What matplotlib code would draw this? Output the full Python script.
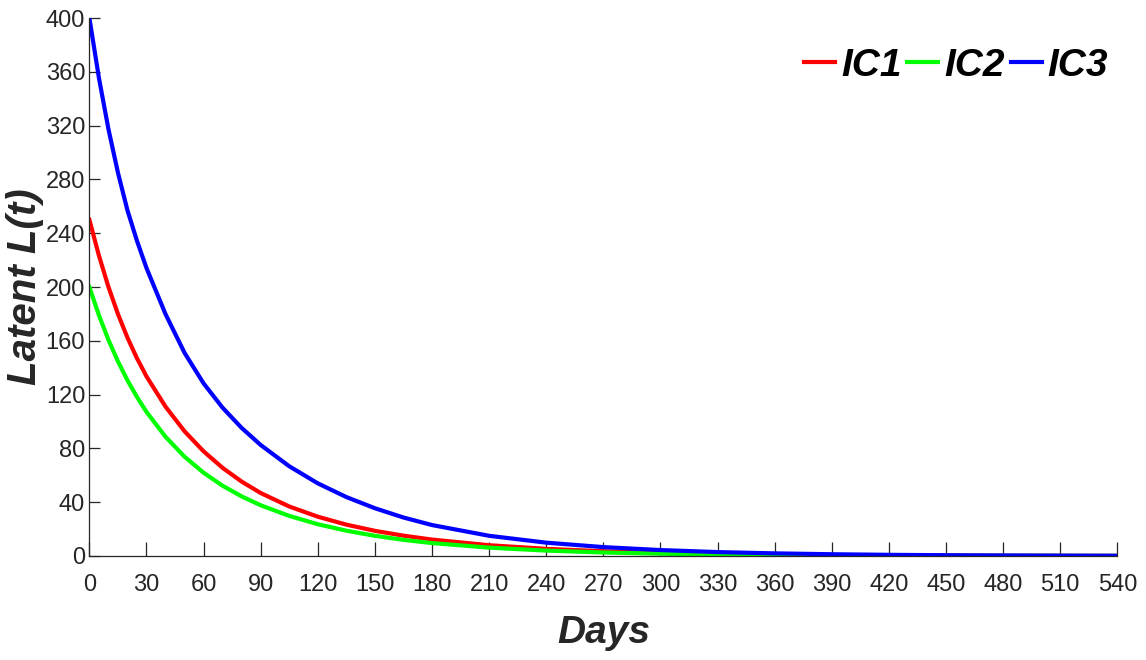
import matplotlib
matplotlib.use('Agg')
import matplotlib.pyplot as plt

# Values
days = [0, 5, 10, 15, 20, 25, 30, 40, 50, 60, 70, 80, 90, 105, 120, 135, 150,
        165, 180, 210, 240, 270, 300, 330, 360, 390, 420, 450, 480, 510, 540]
ic1 = [250, 223.4, 200.1, 179.9, 162.3, 147, 133.5, 111, 92.7, 77.8, 65.5,
       55.3, 46.8, 36.8, 29.2, 23.3, 18.7, 15.1, 12.2, 8.0, 5.3, 3.5, 2.3,
       1.5, 1.0, 0.66, 0.43, 0.29, 0.19, 0.125, 0.082]
ic2 = [200, 179, 160.7, 144.7, 130.6, 118.2, 107.1, 88.6, 73.8, 61.9, 52.2,
       44.3, 37.7, 29.8, 23.6, 18.8, 15.0, 12.0, 9.6, 6.2, 4.0, 2.6, 1.7,
       1.1, 0.72, 0.47, 0.3, 0.2, 0.13, 0.085, 0.055]
ic3 = [400, 355.5, 317.5, 285, 257, 234.3, 214.1, 179.8, 151, 128.3, 110.2,
       95.2, 82.5, 66.7, 54, 43.8, 35.5, 28.6, 23, 15, 9.9, 6.6, 4.4, 2.9,
       1.95, 1.3, 0.86, 0.57, 0.38, 0.25, 0.17]
labels = ['IC1', 'IC2', 'IC3']
colors = ['#ff0000', '#00ff00', '#0000ff']
xticks = list(range(0, 541, 30))
yticks = list(range(0, 401, 40))

plt.rcParams['font.family'] = ['Liberation Sans', 'DejaVu Sans']

fig = plt.figure(figsize=(11.46, 6.6), dpi=100)
ax = fig.add_axes([0.078, 0.1576, 0.897, 0.8151])

for series, lab, col in zip([ic1, ic2, ic3], labels, colors):
    ax.plot(days, series, color=col, linewidth=3, label=lab)

ax.set_xlim(0, 540)
ax.set_ylim(0, 400)
ax.set_xticks(xticks)
ax.set_yticks(yticks)

dark = '#262626'
for side in ['top', 'right']:
    ax.spines[side].set_visible(False)
for side in ['left', 'bottom']:
    ax.spines[side].set_color(dark)
    ax.spines[side].set_linewidth(0.9)

ax.tick_params(axis='x', direction='in', length=10, width=0.9, colors=dark,
               labelsize=17, pad=13)
ax.tick_params(axis='y', direction='in', length=8, width=0.9, colors=dark,
               labelsize=17, pad=3)

ax.set_xlabel('Days', fontsize=28, fontweight='bold', fontstyle='italic',
              color=dark, labelpad=14)
ax.set_ylabel('Latent L(t)', fontsize=29, fontweight='bold',
              fontstyle='italic', color=dark, labelpad=1)

leg = ax.legend(loc='upper right', bbox_to_anchor=(1108 / 1146, 1 - 48 / 660),
                bbox_transform=fig.transFigure, ncol=3, frameon=False,
                borderpad=0, borderaxespad=0, handlelength=0.8,
                handletextpad=0.15, columnspacing=0.15,
                prop={'size': 28, 'weight': 'bold', 'style': 'italic'})
for h in leg.get_lines():
    h.set_linewidth(3)

fig.savefig('out.png', dpi=100)
